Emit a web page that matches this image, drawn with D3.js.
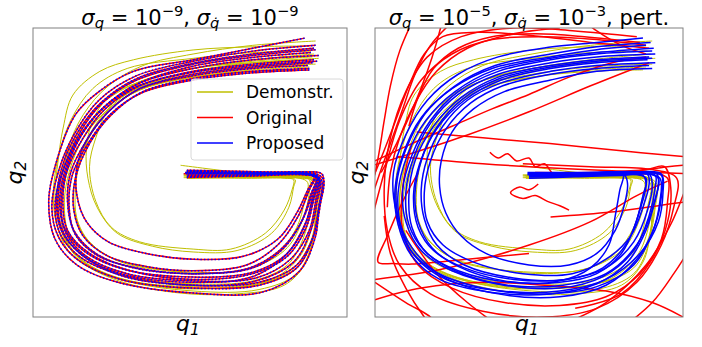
<!DOCTYPE html>
<html>
<head>
<meta charset="utf-8">
<script src="https://cdn.jsdelivr.net/npm/d3@7"></script>
<style>
  body { margin: 0; background: #fff; }
  svg { display: block; font-family: "DejaVu Sans", sans-serif; }
</style>
</head>
<body>
<svg id="chart" width="702" height="347"></svg>
<script>
// demonstrations (shared by both panels), q1/q2 in panel units
const demoCurves = [
  [[88,93.8],[70,93.5],[51,92.4],[32,89],[21.3,85],[12.7,76.8],[9.6,65.4],[8,54],[7,42],[9,30],[15,20],[28,13],[51,9],[72,9.5],[84,15],[89,26],[90,38],[90.5,46],[88,48],[70,48.5],[48,48.5]],
  [[90,95.5],[70,94],[51,91],[35,87],[24,80],[16,70],[11,58],[8.5,46],[8,35],[11,25],[19,17],[33,12],[51,10],[70,11],[82,16],[88,25],[90.5,36],[91,45],[89,48],[70,49.5],[47,52.5]],
  [[89,90],[70,88.5],[51,86],[38,83],[30,79],[24,72],[20,62],[18,52],[20,40],[25,31],[34,26],[51,23.5],[63,23.5],[74,29],[80,37],[82.5,44],[83,47.5],[80,48],[68,48],[49,48.5]],
  [[87,89],[70,88],[51,86],[33,81],[24,76],[19,68],[17,58],[17.5,48],[20.4,38],[26.8,29],[38,24.5],[51,22.5],[65,23],[76,29],[81.5,38],[83,45],[83.5,47.5],[80,48.2],[65,48.5],[49,49]],
  [[91,89.5],[70,88],[51,85],[33,79],[22,71],[15,60],[11,48],[10,37],[12,27],[19,19],[33,13.5],[51,11.5],[70,12.5],[81,18],[86,27],[88.5,38],[89.5,46],[87,48.3],[70,48.6],[48,49]],
  [[88,86.5],[70,85.5],[51,83],[34,78.5],[23,71],[15.5,61],[10.5,49],[9,38],[10,28],[14.5,20],[26,13],[45,8.5],[65,8],[80,11],[87,19],[89.5,30],[90.5,42],[90,47],[85,48],[70,48.3],[48,48.2]],
  [[89.5,91],[70,89],[51,86],[32,80.5],[20,72],[13,61],[9,49],[8,38],[10,28],[16,19.5],[29,13],[51,10.5],[72,11.5],[84,17],[89,27],[91,38],[91.5,46],[88,48.5],[70,48.8],[48,49.2]],
  [[90,87.5],[70,86.5],[51,84],[35,80],[26,74],[19,65],[15,54],[13.5,44],[14,34],[18,26],[28,19],[51,15.5],[68,16.5],[78,22],[84,31],[86.5,40],[87.5,46.5],[85,48],[68,48.3],[49,48]],
  [[88.5,92],[70,91.5],[51,89.5],[30,86],[19,79],[12,68],[8,55],[6.5,43],[7.5,32],[12,22],[22,15],[40,10.5],[60,10],[76,13],[85,21],[89,32],[90,42],[89.5,47.5],[84,48.5],[68,48.5],[49,48.8]],
  [[87,85.5],[70,85],[51,83],[36,79.5],[27,74],[20,66],[15.5,56],[13,45],[13.5,35],[17,27],[25,20.5],[40,16.5],[56,15],[71,17.5],[81,24],[86,34],[88,43],[88,47.5],[84,48.3],[66,48.2],[49,48]]
];

// left panel: original and proposed reproductions coincide
const reproLeft = [
  [[86.5,96.5],[70,93],[51,89],[32,85],[21,78],[13.5,70],[7,52],[5,40],[7,27],[14,18],[27,12],[51,8.3],[73,8.6],[85,16],[90,28],[91,37],[92.5,46],[92,49.5],[80,50],[49,50.8]],
  [[90,92.5],[70,90.5],[51,87.5],[33,82],[22,74],[15,64],[10,52],[8,42],[9,31],[15,22],[28,15],[51,12],[70,14],[81,22],[87,33],[89.5,42],[91,48],[88,49.5],[70,49.8],[48.5,50]],
  [[89,88],[70,86.5],[51,84],[34,79],[24,71],[17,61],[12,50],[11,40],[13,30],[20,22],[32,17],[51,15],[70,17],[80,24],[86,34],[89,43],[90.5,48.5],[87,49.5],[70,49],[49,49]],
  [[91,90.5],[70,89],[51,86],[33,80.5],[22,72],[14.5,62],[9,49],[7,38],[9,28],[16,20],[30,14],[51,11],[71,12.5],[83,19],[88.5,30],[90.5,40],[91.5,47],[89,49],[72,49.5],[48.5,49.8]],
  [[88,86],[70,85],[51,82.5],[35,78],[25,70],[18,60],[13.5,48],[13,37],[16,28],[24,21],[36,17.5],[51,16],[68,18],[78,25],[84.5,35],[88,44],[90,49],[86,49.5],[70,49.2],[49,48.5]],
  [[90,94],[70,92],[51,88.5],[33,83.5],[21,75],[13,63],[8,50],[6,38],[8,28],[14,20],[28,13],[51,10],[72,11],[84,17],[89,27],[91,38],[92,47],[90,49.2],[75,49.8],[49,50.4]],
  [[89.5,89],[70,87.5],[51,85],[34,80],[23,72],[16,62],[11,51],[9.5,40],[11,30],[18,22],[31,16],[51,13],[70,15],[81,21],[87,31],[89.5,41],[91,47.5],[88,49],[72,49.5],[48,49.6]],
  [[88.5,91.5],[70,89.8],[51,86.8],[34,81],[23,73],[15.5,63],[11,52],[9,41],[10,31],[16,23],[29,16.5],[51,13.8],[70,15.5],[80.5,21.5],[86.5,31.5],[89,41.5],[90.5,48],[87.5,49.8],[71,50],[49,50.5]],
  [[87.5,87],[70,86],[51,83.5],[34,79],[24,71],[17,61],[14,52],[14,42],[17,33],[24,26],[36,22],[51,20],[67,21],[78,27],[84,36],[87.5,44],[89.5,48.5],[86,49.5],[70,49.5],[49,49.5]],
  [[90.5,88.5],[70,87],[51,84.7],[33.5,80],[22.5,72.5],[15,62.5],[10,50],[8.5,39],[10.5,29],[17,21],[30,15],[51,12.5],[71,13.5],[82,20],[88,30],[90,40],[91.2,47.8],[88.5,49.3],[72,49.6],[48.8,50]],
  [[89.5,93],[70,91],[51,87.8],[33,82.5],[21.5,74],[14,63.5],[9,51],[7.5,40],[9,30],[15.5,21.5],[29,14],[51,11],[72,12],[84,18],[89.5,28.5],[91.5,39],[92.5,47.5],[90,49.6],[74,50],[49,50.6]],
  [[88,85.5],[70,84.5],[51,82],[34.5,77.5],[24.5,70],[17.5,60],[12.5,49],[11.5,38],[13.5,28.5],[21,21],[33,17],[51,15],[69,17],[79,23.5],[85.5,33],[88.5,42.5],[90.2,48.2],[86.5,49.2],[70,48.8],[49,48.3]]
];

// right panel, perturbed: proposed reproductions
const propRight = [
  [[87,96.5],[72,95],[57,93.4],[40,90],[27,84],[17,75],[10,63],[6,50],[7,36],[12,24],[22,14],[40,8],[60,7],[75,11],[85,20],[91,32],[93,42],[93,49],[88,50],[70,49.5],[49.5,49.2]],
  [[90,92],[72,91],[57,89],[40,85],[27,78],[18,68],[12,56],[9,44],[10,33],[15,23],[25,16],[42,11],[60,10],[74,14],[84,23],[89,35],[91,45],[91,49],[85,49.5],[68,49],[50,48.5]],
  [[91,88],[72,87],[57,85],[41,81],[30,75],[22,66],[17,55],[15,44],[16,34],[20,25],[29,18],[45,13.5],[62,13],[74,17],[82,26],[86,37],[88,46],[87,49],[80,49],[65,48.5],[50,48]],
  [[88,94],[72,92.5],[57,90],[38,86],[25,79],[15,69],[9,56],[6.5,44],[7.5,32],[12,21],[21,13],[38,8.5],[57,8],[72,11.5],[82,19],[88,30],[91,41],[92,48],[86,50],[68,49.8],[50,49.5]],
  [[90,86],[72,85],[57,82],[42,78],[32,72],[25,64],[21.5,54],[21,45],[23,36],[28,28],[36,22],[50,18],[63,18],[72,22],[78,30],[81,39],[82,46],[81,49],[70,49],[50,48.5]],
  [[89,90],[72,89],[57,87],[40,83],[28,76],[19,66],[13,54],[11,42],[12,31],[17,22],[27,16],[44,12],[60,12.5],[70,17],[76,25],[78,35],[79.5,44],[80.5,49.5],[72,50],[58,49.5],[50,49]],
  [[91,91],[72,90],[57,88],[40,84],[27,77],[18,67],[12.5,55],[10,43],[11,32],[16,23],[26,16],[43,11],[61,11],[75,15],[85,25],[90,37],[92,46],[91.5,49.5],[84,50],[66,49.8],[49.5,49.6]],
  [[88.5,89],[72,88],[57,86],[41,82],[29,75],[20,65],[14.5,53],[12.5,42],[14,31],[19,23],[29,17],[45,13],[62,13],[75,17],[84,26],[88.5,37],[90,46],[89,49.5],[80,49.8],[64,49.5],[50,49.3]],
  [[90.5,93],[72,91.5],[57,89.5],[39,85.5],[26,78],[16.5,68],[10.5,56],[7.5,43],[8.5,31],[13,21],[23,13],[41,9],[60,9],[75,13],[86,22],[92,33],[93.5,43],[93,49.5],[86,50.3],[68,50],[49.5,50]],
  [[89,87],[72,86],[57,84],[41.5,80],[31,74],[23,65],[18,54],[16,43],[17,33],[22,25],[32,19],[48,15],[64,15],[75,20],[83,28],[87,38],[89,46],[88.5,49.3],[80,49.5],[64,49],[50,48.7]],
  [[89.5,95],[72,93.5],[57,91],[39,87],[26,80],[16,70],[10,58],[7,46],[7.5,34],[11,24],[19,16],[35,10],[55,8],[72,10.5],[84,18],[90,29],[92.5,40],[92.5,48],[87,49.8],[68,49.6],[50,49.4]],
  [[90,89.5],[72,88.5],[57,86.5],[40.5,82.5],[28.5,75.5],[20,65.5],[15,54],[13,43],[14,33],[18.5,24],[27,17.5],[42,12.5],[60,12],[72,15],[80,22],[84.5,32],[87,42],[88,48],[82,49.5],[66,49.2],[50,49]]
];

// right panel, perturbed: original method
const origRight = [
  [[85,97],[65,99],[45,100],[28,97],[17,90],[10,78],[5,62],[3,45],[4,30],[8,18],[18,8],[35,2],[55,0],[72,3],[85,12],[93,25],[97,38],[98,48],[90,51],[70,52],[48,53]],
  [[89,93],[70,95],[50,97.5],[33,98.5],[22,97],[16,91],[11,80],[6,66],[2,55],[-3,42]],
  [[88,91],[80,94],[72,99],[66,104]],
  [[88,90],[77,88],[63,83],[50,77],[38,72],[25,66],[12,60],[0,54]],
  [[89,88],[70,80],[50,71],[30,63],[10,56],[-5,51]],
  [[-2,30],[3,50],[8,68],[15,82],[25,91],[38,96],[55,97],[72,96],[88,94]],
  [[12,102],[8,92],[5,80],[3,68],[1,55],[-2,40]],
  [[24,101],[18,94],[13,84],[9,72],[5,60],[1,48],[-3,35]],
  [[60,100],[45,98],[30,93],[20,85],[13,74],[8,62],[5,50],[4,38]],
  [[86,95],[68,97],[52,98],[38,97],[27,93],[19,86],[14,76],[11,66]],
  [[22,103],[20,95],[17,85],[13,74],[7,60],[2,50]],
  [[13.5,64],[35,62],[56.8,60],[80,57.5],[100,55.5],[105,55]],
  [[7,55.5],[35,53],[67.6,51],[90,50],[105,49.5]],
  [[37.3,57],[40,55],[43,56.5],[46,54],[50,55],[52,52],[55,53],[58,49.5],[62,50],[70,49.5],[88,49.5]],
  [[53,46],[50,44],[47,45],[44,43],[48,41],[52,42],[56,40],[60,38.5],[63,37]],
  [[57,34.6],[76.6,36.3],[92.9,38.7],[102,40]],
  [[12,60],[9,45],[9,30],[14,18],[25,10],[42,5],[60,4],[75,7],[86,15],[93,27],[95,40],[95,48],[90,50],[75,50]],
  [[0,12],[10,5],[18,0],[22,-5]],
  [[0,13],[21.6,16.5],[50.3,25],[70,33],[85,42],[95,47]],
  [[14,50],[9,40],[4,28],[1,19],[6,18.5],[12,18.3],[30,20],[50,22]],
  [[0,6],[15,10],[35,12],[55,11],[75,9],[90,5],[100,0]],
  [[60,-3],[75,5],[88,18],[96,32],[101,45]],
  [[80,-4],[90,5],[97,15],[103,25]],
  [[3,35],[5,22],[10,10],[16,0],[20,-5]],
  [[10,30],[20,15],[30,5],[40,-3]],
  [[65,3],[80,8],[90,20],[95,33],[96,45],[94,52],[88,51],[75,50]],
  [[105,53],[95,52],[85,50.5],[70,50],[52,50]]
];

const legendLabels = ['Demonstr.', 'Original', 'Proposed'];
const colors = { demo: '#bfbf00', orig: '#ff0000', prop: '#0000ff' };

const svg = d3.select('#chart');

const panels = [
  { id: 'left',  x0: 33,  y0: 28, w: 314, h: 289,
    title: [['σ','i'],['q','sub'],[' = 10','n'],['−9','sup'],[', ','n'],['σ','i'],['q\u0307','sub'],[' = 10','n'],['−9','sup']],
    demo: demoCurves, orig: reproLeft, prop: reproLeft, dotted: true, legend: true },
  { id: 'right', x0: 375, y0: 28, w: 308, h: 289,
    title: [['σ','i'],['q','sub'],[' = 10','n'],['−5','sup'],[', ','n'],['σ','i'],['q\u0307','sub'],[' = 10','n'],['−3','sup'],[', pert.','n']],
    demo: demoCurves, orig: origRight, prop: propRight, dotted: false, legend: false }
];

function mathText(g, x, y, parts, size) {
  const t = g.append('text').attr('x', x).attr('y', y)
    .attr('text-anchor', 'middle').style('font-size', size + 'px').attr('fill', '#000');
  let shift = 0;
  parts.forEach(([s, kind]) => {
    let target = 0, fs = size, italic = false;
    if (kind === 'sub') { target = size * 0.16; fs = size * 0.7; italic = true; }
    if (kind === 'sup') { target = -size * 0.42; fs = size * 0.7; }
    if (kind === 'i') italic = true;
    t.append('tspan').attr('dy', target - shift).style('font-size', fs + 'px')
      .style('font-style', italic ? 'italic' : 'normal').text(s);
    shift = target;
  });
  return t;
}

panels.forEach(p => {
  const x = d3.scaleLinear().domain([0, 100]).range([p.x0, p.x0 + p.w]);
  const y = d3.scaleLinear().domain([0, 100]).range([p.y0 + p.h, p.y0]);
  const line = d3.line().x(d => x(d[0])).y(d => y(d[1])).curve(d3.curveCatmullRom.alpha(0.5));

  svg.append('clipPath').attr('id', 'clip-' + p.id)
    .append('rect').attr('x', p.x0).attr('y', p.y0).attr('width', p.w).attr('height', p.h);

  const g = svg.append('g').attr('clip-path', `url(#clip-${p.id})`);

  g.selectAll('.demo').data(p.demo).enter().append('path')
    .attr('d', line).attr('fill', 'none').attr('stroke', colors.demo).attr('stroke-width', 1);

  g.selectAll('.orig').data(p.orig).enter().append('path')
    .attr('d', line).attr('fill', 'none').attr('stroke', colors.orig).attr('stroke-width', 1.5);

  g.selectAll('.prop').data(p.prop).enter().append('path')
    .attr('d', line).attr('fill', 'none').attr('stroke', colors.prop).attr('stroke-width', 1.5)
    .attr('stroke-dasharray', p.dotted ? '1.5,2' : null);

  // frame
  svg.append('rect').attr('x', p.x0).attr('y', p.y0).attr('width', p.w).attr('height', p.h)
    .attr('fill', 'none').attr('stroke', '#808080').attr('stroke-width', 1);

  mathText(svg, p.x0 + p.w / 2, 25, p.title, 21);

  // axis labels
  mathText(svg, p.x0 + p.w / 2 - 2, 331, [['q','i'],['1','sub']], 22);
  const yl = svg.append('g').attr('transform', `translate(${p.x0 - 11},${p.y0 + p.h / 2})rotate(-90)`);
  mathText(yl, 0, 0, [['q','i'],['2','sub']], 22);

  if (p.legend) {
    const lg = svg.append('g').attr('transform', 'translate(191,79)');
    lg.append('rect').attr('width', 152).attr('height', 81).attr('rx', 3)
      .attr('fill', '#fff').attr('fill-opacity', 0.8).attr('stroke', '#d8d8d8');
    const lc = [colors.demo, colors.orig, colors.prop];
    legendLabels.forEach((lab, i) => {
      const yy = 13 + i * 25.5;
      lg.append('line').attr('x1', 6).attr('x2', 42).attr('y1', yy).attr('y2', yy)
        .attr('stroke', lc[i]).attr('stroke-width', 1.5);
      lg.append('text').attr('x', 55).attr('y', yy + 6).style('font-size', '17px').text(lab);
    });
  }
});
</script>
</body>
</html>
